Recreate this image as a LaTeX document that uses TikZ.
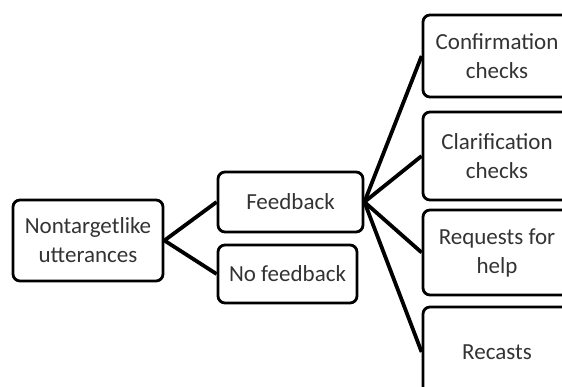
\documentclass[tikz,border=0pt]{standalone}
\usepackage{fontspec}
\setmainfont{Carlito}
\usetikzlibrary{positioning}

\begin{document}
\begin{tikzpicture}[
		x=1pt, y=-1pt,
		box/.style={rectangle, draw, line width=2.8pt, rounded corners=7pt, align=center, inner sep=0pt, text=black!80, font=\fontsize{23}{29}\selectfont},
		sidebox/.style={box, minimum width=148pt, minimum height=84pt},
		link/.style={line width=3.8pt}
	]
	\useasboundingbox (0,0) rectangle (562,387);

	\node[box, minimum width=150pt, minimum height=81pt] (utt) at (88,240.5) {Nontargetlike\\utterances};
	\node[box, minimum width=145pt, minimum height=60pt] (fb) at (290.5,202) {Feedback};
	\node[box, minimum width=139pt, minimum height=58pt] (nofb) at (287.5,274) {No feedback};

	\node[sidebox, minimum height=82pt] (conf) at (497,56) {Confirmation\\checks};
	\node[sidebox, minimum height=88pt] (clar) at (497,156) {Clarification\\checks};
	\node[sidebox, minimum height=85pt] (req) at (497,252.5) {Requests for\\help};
	\node[sidebox, minimum height=90pt] (rec) at (497,352) {Recasts};

	\foreach \i in {fb, nofb}
		\draw[link] (utt.east) -- (\i.west);

	\foreach \i in {conf, clar, req, rec}
		\draw[link] (fb.east) -- (\i.west);

\end{tikzpicture}
\end{document}
